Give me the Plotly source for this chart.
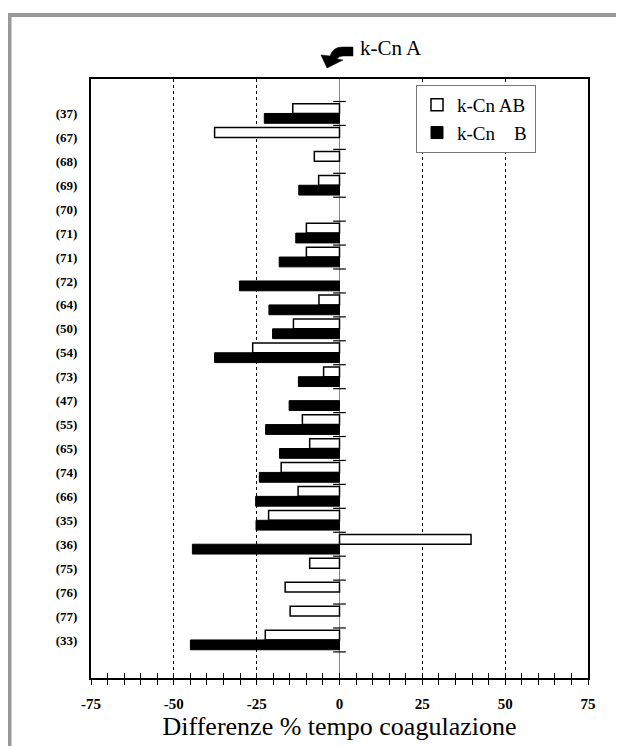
import plotly.graph_objects as go

# ---- data ----
labels = ["(37)", "(67)", "(68)", "(69)", "(70)", "(71)", "(71)", "(72)", "(64)", "(50)",
          "(54)", "(73)", "(47)", "(55)", "(65)", "(74)", "(66)", "(35)", "(36)", "(75)",
          "(76)", "(77)", "(33)"]
ab_values = [-14.1, -37.7, -7.6, -6.3, None, -10.0, -10.0, None, -6.2, -13.9,
             -26.2, -4.8, None, -11.2, -9.0, -17.6, -12.5, -21.4, 39.7, -9.0,
             -16.4, -14.9, -22.4]
b_values = [-22.7, None, None, -12.3, None, -13.2, -18.2, -30.2, -21.3, -20.2,
            -37.7, -12.4, -15.2, -22.3, -18.1, -24.2, -25.3, -25.2, -44.4, None,
            None, None, -45.0]
x_ticks = [-75, -50, -25, 0, 25, 50, 75]

positions = list(range(len(labels)))
SERIF = "Liberation Serif, Times New Roman, serif"

# page offset of the plot div (default body margin)
O = 8
W, H = 624 - O, 746 - O
# plot area in page pixels
L, R, T, B = 91, 588, 79, 678


def px(x):
    return (x - L) / (R - L)


def py(y):
    return (B - y) / (B - T)


fig = go.Figure()
fig.add_trace(go.Bar(
    y=positions, x=ab_values, orientation="h", name="k-Cn AB\u00a0",
    marker=dict(color="white", line=dict(color="black", width=1.5)),
))
fig.add_trace(go.Bar(
    y=positions, x=b_values, orientation="h", name="k-Cn\u00a0\u00a0\u00a0 B",
    marker=dict(color="black", line=dict(color="black", width=1)),
))
# small cross ticks on the zero line between categories
bounds = [p - 0.5 for p in positions] + [positions[-1] + 0.5]
fig.add_trace(go.Scatter(
    x=[0] * len(bounds), y=bounds, mode="markers", showlegend=False, hoverinfo="skip",
    marker=dict(symbol="line-ew", size=9, line=dict(color="black", width=1.2)),
))
# helper trace for the inner tick axis
fig.add_trace(go.Scatter(x=[x_ticks[0], x_ticks[-1]], y=[0, 0], xaxis="x2", mode="markers",
                         marker=dict(opacity=0), showlegend=False, hoverinfo="skip"))

fig.update_layout(
    width=W, height=H,
    margin=dict(l=L - O, r=624 - R, t=T - O, b=746 - B),
    paper_bgcolor="white", plot_bgcolor="white",
    barmode="group", bargap=0.18, bargroupgap=0,
    font=dict(family=SERIF, color="black"),
    showlegend=True,
    legend=dict(
        x=px(416), y=py(85), xanchor="left", yanchor="top",
        bgcolor="white", bordercolor="#777", borderwidth=1,
        font=dict(family=SERIF, size=19, color="black"),
        itemwidth=30, tracegroupgap=0,
    ),
    xaxis=dict(
        range=[x_ticks[0], x_ticks[-1]], tickvals=x_ticks,
        ticktext=[str(v) for v in x_ticks],
        showline=True, linecolor="black", linewidth=2, mirror=True,
        ticks="outside", ticklen=5, tickwidth=1.2, tickcolor="black",
        minor=dict(dtick=5, ticks="outside", ticklen=5, tickwidth=1.2, tickcolor="black"),
        showgrid=True, gridcolor="black", gridwidth=1.3, griddash="dot",
        zeroline=True, zerolinecolor="#888", zerolinewidth=1,
        tickfont=dict(family=SERIF, size=15, color="black", weight="bold"),
        ticklabelstandoff=6,
        title=dict(text="Differenze % tempo coagulazione",
                   font=dict(family=SERIF, size=26, color="black"), standoff=5),
    ),
    xaxis2=dict(
        overlaying="x", anchor="y", side="bottom",
        range=[x_ticks[0], x_ticks[-1]], dtick=5, tick0=0,
        ticks="inside", ticklen=5, tickwidth=1.2, tickcolor="black",
        showticklabels=False, showgrid=False, zeroline=False, showline=False,
    ),
    yaxis=dict(
        range=[positions[-1] + 1.59, -1.44],
        tickvals=positions, ticktext=labels,
        showline=True, linecolor="black", linewidth=2, mirror=True,
        ticks="", showgrid=False, zeroline=False,
        tickfont=dict(family=SERIF, size=13, color="black", weight="bold"),
        ticklabelstandoff=9,
    ),
)

# annotation "k-Cn A" with curved arrow
fig.add_annotation(
    text="k-Cn A", xref="paper", yref="paper", x=px(358), y=py(48),
    xanchor="left", yanchor="middle", showarrow=False,
    font=dict(family=SERIF, size=21, color="black"),
)
path = (f"M{px(353)},{py(47)} L{px(342)},{py(47)} "
        f"Q{px(333)},{py(47)} {px(330)},{py(56)} "
        f"L{px(321)},{py(55)} L{px(327)},{py(68)} L{px(343)},{py(60)} L{px(337)},{py(59)} "
        f"Q{px(339)},{py(56)} {px(343)},{py(56)} L{px(353)},{py(56)} Z")
fig.add_shape(type="path", path=path, xref="paper", yref="paper",
              fillcolor="black", line=dict(color="black", width=0.5))

# grey frame (top and left)
fig.add_shape(type="line", xref="paper", yref="paper",
              x0=px(8), y0=py(15), x1=px(630), y1=py(15),
              line=dict(color="#999", width=4))
fig.add_shape(type="line", xref="paper", yref="paper",
              x0=px(9.5), y0=py(13), x1=px(9.5), y1=py(760),
              line=dict(color="#999", width=4))

fig.write_html("out.html")
